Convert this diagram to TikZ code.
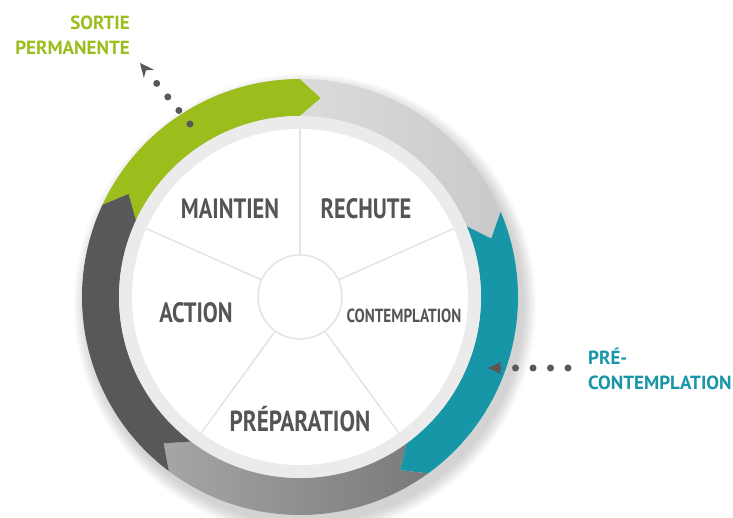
\documentclass[tikz,border=0pt]{standalone}
\usepackage{fontspec}
\newfontfamily\stagefont[FakeStretch=0.8]{PT Sans}
\newfontfamily\sidefont{PT Sans}
\usetikzlibrary{arrows.meta,calc,positioning}

\definecolor{cyclegreen}{HTML}{9BBE1D}
\definecolor{cycleteal}{HTML}{1796A8}
\definecolor{cycledark}{HTML}{58585A}
\definecolor{labelgray}{HTML}{555557}
\definecolor{rimgray}{HTML}{EBEBEB}
\definecolor{spokegray}{HTML}{E4E4E4}

\def\rout{218pt}
\def\rmid{200pt}
\def\rin{181pt}
\def\rwhite{168pt}

% one coloured piece of the ring, head at the clockwise end
\newcommand{\ringpart}[3]{%
  \path[#3] (#1:\rout) arc[start angle=#1, end angle=#2, radius=\rout]
    -- (#2-6:\rmid) -- (#2:\rin) arc[start angle=#2, end angle=#1, radius=\rin]
    -- (#1-6:\rmid) -- cycle;}

\tikzset{
    stagelabel/.style={text=labelgray, font=\stagefont\bfseries\fontsize{28}{28}\selectfont, inner sep=0pt},
    smalllabel/.style={text=labelgray, font=\stagefont\bfseries\fontsize{19}{19}\selectfont, inner sep=0pt},
    sidelabel/.style={font=\sidefont\bfseries\fontsize{19}{25}\selectfont, inner sep=0pt},
    dotline/.style={cycledark, line width=7pt, line cap=round, dash pattern=on 0pt off 17.5pt,
        -{Stealth[length=14pt, width=13pt, line width=0pt]}}
}

\begin{document}
\begin{tikzpicture}[x=1pt, y=1pt]
    \useasboundingbox (0,0) rectangle (733,518);
    \coordinate (c) at (300,221);
    \foreach \k in {0,...,11}
        \fill[black, opacity=0.016] ($(c)+(5,-8)$) circle[radius=218pt+1.2*\k pt];
    \begin{scope}[shift={(c)}]
        \ringpart{155}{90}{fill=cyclegreen}
        \ringpart{90}{23}{left color=gray!28, right color=gray!42}
        \ringpart{23}{-54}{fill=cycleteal}
        \ringpart{-54}{-127}{left color=gray!70, right color=gray!95!black}
        \ringpart{-127}{-205}{fill=cycledark}
        \fill[rimgray] (0,0) circle[radius=\rin];
        \fill[white] (0,0) circle[radius=\rwhite];
        \foreach \a in {90,24,-54,-126,156}
            \draw[spokegray, line width=1.5pt] (\a:42pt) -- (\a:\rwhite);
        \draw[spokegray, line width=1.5pt, fill=white] (0,0) circle[radius=42pt];
    \end{scope}
    \node[stagelabel, anchor=base] (maintien) at (230,299) {MAINTIEN};
    \node[stagelabel, anchor=base] (rechute) at (366,299) {RECHUTE};
    \node[stagelabel, anchor=base] (action) at (196,195) {ACTION};
    \node[smalllabel, anchor=base] (contemplation) at (404,195) {CONTEMPLATION};
    \node[stagelabel, anchor=base, font=\stagefont\bfseries\fontsize{29}{29}\selectfont] (preparation) at (300,86) {PRÉPARATION};
    \node[sidelabel, text=cyclegreen, align=right, anchor=base east] (sortie) at (130,463) {SORTIE\\PERMANENTE};
    \node[sidelabel, text=cycleteal, align=left, anchor=base west] (precont) at (588,128) {PRÉ-\\CONTEMPLATION};
    \coordinate (sortieFrom) at (190,394);
    \coordinate (sortieTip) at (140,455);
    \coordinate (precontFrom) at (568,150);
    \coordinate (precontTip) at (488,150);
    \draw[dotline] (sortieFrom) -- (sortieTip);
    \draw[dotline] (precontFrom) -- (precontTip);
\end{tikzpicture}
\end{document}
